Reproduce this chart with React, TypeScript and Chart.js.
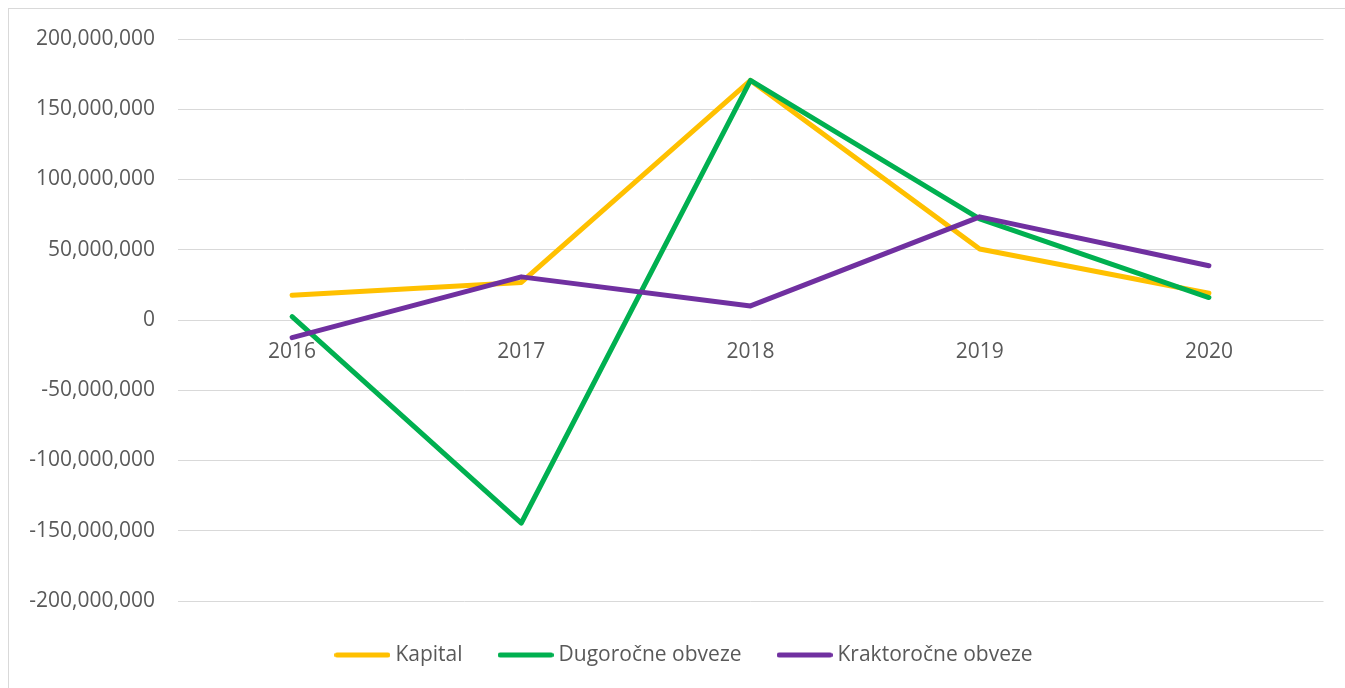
import React, { useEffect, useRef } from "react";
import { Chart, registerables } from "chart.js";

Chart.register(...registerables);

const categories = ["2016", "2017", "2018", "2019", "2020"];
const kapital = [17600000, 26700000, 170500000, 50500000, 19000000];
const dugorocne = [2400000, -144500000, 170500000, 72000000, 16000000];
const kraktorocne = [-12600000, 30700000, 10000000, 73400000, 38600000];
const seriesNames = ["Kapital", "Dugoročne obveze", "Kraktoročne obveze"];
const seriesColors = ["#FFC000", "#00B050", "#7030A0"];
const yMin = -200000000;
const yMax = 200000000;
const yStep = 50000000;

const FONT = "'Open Sans', 'Liberation Sans', sans-serif";
const TEXT = "#595959";

const legendShift = {
  id: "legendShift",
  afterLayout(chart: any) {
    const l = chart.legend;
    if (!l) return;
    l.left += 20;
    l.right += 20;
    l.top += 3;
    l.bottom += 3;
  },
};

function makeSwatch(color: string) {
  const c = document.createElement("canvas");
  c.width = 56;
  c.height = 6;
  const ctx = c.getContext("2d");
  if (ctx) {
    ctx.strokeStyle = color;
    ctx.lineWidth = 5;
    ctx.lineCap = "round";
    ctx.beginPath();
    ctx.moveTo(2.5, 3);
    ctx.lineTo(53.5, 3);
    ctx.stroke();
  }
  return c;
}

export default function App() {
  const ref = useRef<HTMLCanvasElement | null>(null);

  useEffect(() => {
    document.documentElement.style.overflow = "hidden";
    document.body.style.overflow = "hidden";
    if (!ref.current) return;
    const values = [kapital, dugorocne, kraktorocne];
    const swatches = seriesColors.map(makeSwatch);
    const chart = new Chart(ref.current, {
      type: "line",
      data: {
        labels: categories,
        datasets: values.map((v, i) => ({
          label: seriesNames[i],
          data: v,
          borderColor: seriesColors[i],
          backgroundColor: seriesColors[i],
          borderWidth: 5,
          borderCapStyle: "round" as const,
          borderJoinStyle: "round" as const,
          pointRadius: 0,
          pointHoverRadius: 0,
          tension: 0,
          fill: false,
          order: 3 - i,
        })),
      },
      plugins: [legendShift],
      options: {
        responsive: false,
        animation: false,
        layout: { padding: { top: 30, right: 21.5, left: 0, bottom: 15.5 } },
        plugins: {
          tooltip: { enabled: false },
          legend: {
            position: "bottom",
            labels: {
              usePointStyle: true,
              pointStyleWidth: 45,
              boxHeight: 5,
              padding: 40.5,
              color: TEXT,
              font: { family: FONT, size: 21 },
              sort: (a: any, b: any) => a.datasetIndex - b.datasetIndex,
              generateLabels: (c: any) =>
                Chart.defaults.plugins.legend.labels
                  .generateLabels(c)
                  .map((l: any) => ({
                    ...l,
                    pointStyle: swatches[l.datasetIndex],
                    lineWidth: 0,
                    strokeStyle: "rgba(0,0,0,0)",
                  })),
            },
          },
        },
        scales: {
          x: {
            position: { y: 0 } as any,
            offset: true,
            grid: { display: false },
            border: { display: false },
            ticks: { color: TEXT, font: { family: FONT, size: 21 }, padding: 11, maxRotation: 0 },
          },
          y: {
            min: yMin,
            max: yMax,
            grid: { color: "#d9d9d9", lineWidth: 1, drawTicks: false },
            border: { display: false },
            ticks: {
              stepSize: yStep,
              padding: 22.5,
              color: TEXT,
              font: { family: FONT, size: 21 },
              callback: (v: any) => Number(v).toLocaleString("en-US"),
            },
            afterFit: (s: any) => {
              s.width = 168.5;
              s.paddingTop = 0;
              s.paddingBottom = 0;
            },
          },
        },
      },
    });
    return () => chart.destroy();
  }, []);

  return (
    <div
      style={{
        position: "fixed",
        left: 8,
        top: 8,
        width: 1400,
        height: 700,
        borderLeft: "1px solid #d9d9d9",
        borderTop: "1px solid #d9d9d9",
        boxSizing: "border-box",
        background: "#fff",
      }}
    >
      <canvas ref={ref} width={1336} height={679} style={{ display: "block" }} />
    </div>
  );
}
